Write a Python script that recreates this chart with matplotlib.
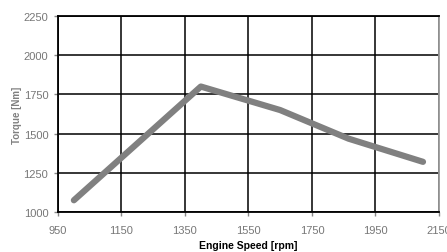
import matplotlib
matplotlib.use('Agg')
import matplotlib.pyplot as plt

plt.rcParams['font.family'] = ['Liberation Sans', 'DejaVu Sans']

# engine speed vs torque curve
speed = [1000, 1400, 1650, 1865, 2100]
torque = [1075, 1800, 1650, 1468, 1320]

x_ticks = [950, 1150, 1350, 1550, 1750, 1950, 2150]
y_ticks = [1000, 1250, 1500, 1750, 2000, 2250]

fig = plt.figure(figsize=(4.47, 2.53), dpi=100)
ax = fig.add_axes([0.1298, 0.158, 0.852, 0.775])

ax.plot(speed, torque, color='#808080', linewidth=4.5, solid_capstyle='round', solid_joinstyle='round', zorder=3)

ax.set_xlim(950, 2150)
ax.set_ylim(1000, 2250)
ax.set_xticks(x_ticks)
ax.set_yticks(y_ticks)
ax.grid(True, color='black', linewidth=1.1, zorder=1)
ax.set_axisbelow(True)

for side in ['left', 'bottom', 'top']:
    ax.spines[side].set_color('black')
    ax.spines[side].set_linewidth(1.3)
ax.spines['right'].set_color('#999999')
ax.spines['right'].set_linewidth(1.3)

ax.tick_params(axis='both', labelsize=8, labelcolor='#777777', length=3, width=1, color='#888888', pad=4)
ax.tick_params(axis='x', pad=6)

ax.set_xlabel('Engine Speed [rpm]', fontsize=7.5, fontweight='bold', color='black', labelpad=4)
ax.set_ylabel('Torque [Nm]', fontsize=7, fontweight='bold', color='#808080', labelpad=1)

fig.savefig('out.png', dpi=100)
